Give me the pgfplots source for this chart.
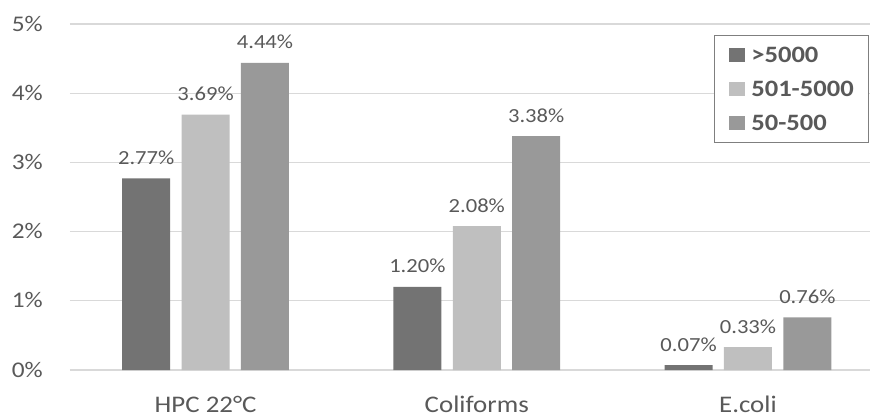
\documentclass[border=0pt]{standalone}
\usepackage{pgfplots}
\pgfplotsset{compat=1.18}
\usepackage{fontspec}
\setmainfont{Carlito}[FakeStretch=1.13]
\definecolor{txt}{HTML}{595959}
\definecolor{gridc}{HTML}{D9D9D9}
\definecolor{legc}{HTML}{7F7F7F}
\definecolor{cdark}{HTML}{737373}
\definecolor{clight}{HTML}{BFBFBF}
\definecolor{cmid}{HTML}{999999}
\begin{document}
\begin{tikzpicture}
\begin{axis}[
    at={(0,0)}, anchor=south west,
    scale only axis, width=800bp, height=346bp,
    xmin=-0.5, xmax=2.45, ymin=0, ymax=5,
    ybar, bar width=0.177,
    xtick={0,1,2},
    xticklabels={HPC 22°C, Coliforms, E.coli},
    ytick={0,1,2,3,4,5},
    yticklabel={\pgfmathprintnumber{\tick}\%},
    /pgf/number format/assume math mode=true,
    axis line style={draw=none},
    major tick length=0pt,
    ymajorgrids,
    grid style={draw=gridc, line width=1.2bp},
    xticklabel style={font=\fontsize{23.8bp}{28bp}\selectfont, text=txt,
        anchor=base, inner sep=0pt, yshift=-42bp},
    yticklabel style={font=\fontsize{22.4bp}{26bp}\selectfont, text=txt,
        anchor=base east, inner sep=0pt, xshift=-27bp, yshift=-7bp},
    nodes near coords={\pgfmathprintnumber[fixed,fixed zerofill,precision=2]{\pgfplotspointmeta}\%},
    nodes near coords style={font=\fontsize{20bp}{24bp}\selectfont, text=txt,
        anchor=base, inner sep=0pt, yshift=14bp},
    legend cell align=left,
    legend image code/.code={\fill[#1] (0bp,-7bp) rectangle (16bp,7bp);},
    legend style={at={(0.999,0.968)}, anchor=north east, draw=legc, line width=1bp,
        font=\bfseries\fontsize{23.5bp}{28bp}\selectfont, text=txt,
        inner xsep=15bp, inner ysep=12bp, row sep=19bp, column sep=6bp,
        nodes={inner sep=0pt, text height=15bp, text depth=0pt}},
    clip=false,
]
\addplot[fill=cdark, draw=none, bar shift=-0.219] coordinates {(0,2.77) (1,1.20) (2,0.07)};
\addlegendentry{>5000}
\addplot[fill=clight, draw=none, bar shift=0] coordinates {(0,3.69) (1,2.08) (2,0.33)};
\addlegendentry{501-5000}
\addplot[fill=cmid, draw=none, bar shift=0.219] coordinates {(0,4.44) (1,3.38) (2,0.76)};
\addlegendentry{50-500}
\end{axis}
\pgfresetboundingbox
\useasboundingbox (-70bp,-49bp) rectangle (802bp,370bp);
\end{tikzpicture}
\end{document}
